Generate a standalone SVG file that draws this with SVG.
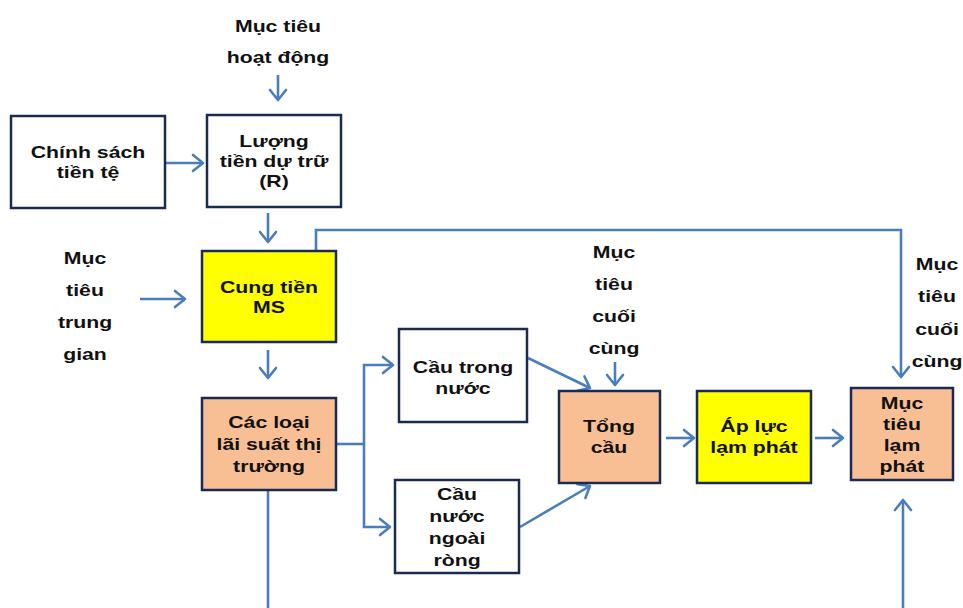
<svg xmlns="http://www.w3.org/2000/svg" width="963" height="608" viewBox="0 0 963 608">
<defs>
<style>
.box{stroke:#1B2A52;stroke-width:2.5}
.w{fill:#ffffff}
.y{fill:#FFFF00}
.p{fill:#F9BF94}
.c{fill:none;stroke:#4A7EBB;stroke-width:2.6}
text{font-family:"Liberation Sans",Arial,sans-serif;font-weight:bold;font-size:17px;fill:#111;text-anchor:middle}
</style>
<marker id="a" markerUnits="userSpaceOnUse" markerWidth="20" markerHeight="20" viewBox="-12 -10 14 20" refX="0" refY="0" orient="auto">
<path d="M-10,-8 L0,0 L-10,8" fill="none" stroke="#4A7EBB" stroke-width="2.6" stroke-linecap="round" stroke-linejoin="round"/>
</marker>
</defs>
<rect width="963" height="608" fill="#ffffff"/>
<g id="connectors">
<path class="c" d="M278,75 L278,100" marker-end="url(#a)"/>
<path class="c" d="M166,163 L203,163" marker-end="url(#a)"/>
<path class="c" d="M268,213 L268,242" marker-end="url(#a)"/>
<path class="c" d="M316,251 L316,230 L901,230 L901,377" marker-end="url(#a)"/>
<path class="c" d="M140,299 L185,299" marker-end="url(#a)"/>
<path class="c" d="M268,350 L268,378" marker-end="url(#a)"/>
<path class="c" d="M336,444 L364,444"/>
<path class="c" d="M364,444 L364,365 L393,365" marker-end="url(#a)"/>
<path class="c" d="M364,444 L364,527 L390,527" marker-end="url(#a)"/>
<path class="c" d="M528,358 L590,388" marker-end="url(#a)"/>
<path class="c" d="M520,527 L590,486" marker-end="url(#a)"/>
<path class="c" d="M615,362 L615,385" marker-end="url(#a)"/>
<path class="c" d="M666,438 L694,438" marker-end="url(#a)"/>
<path class="c" d="M815,438 L843,438" marker-end="url(#a)"/>
<path class="c" d="M268,491 L268,608"/>
<path class="c" d="M903,608 L903,500" marker-end="url(#a)"/>
</g>
<g id="label-muc-tieu-hoat-dong">
<text transform="translate(278,32) scale(1.25,1)"><tspan x="0" y="0">Mục tiêu</tspan><tspan x="0" y="31">hoạt động</tspan></text>
</g>
<g id="node-chinh-sach">
<rect class="box w" x="11" y="116" width="154" height="92"/>
<text transform="translate(88,158) scale(1.25,1)"><tspan x="0" y="0">Chính sách</tspan><tspan x="0" y="20">tiền tệ</tspan></text>
</g>
<g id="node-luong-tien">
<rect class="box w" x="207" y="115" width="134" height="92"/>
<text transform="translate(274,147) scale(1.25,1)"><tspan x="0" y="0">Lượng</tspan><tspan x="0" y="20">tiền dự trữ</tspan><tspan x="0" y="40">(R)</tspan></text>
</g>
<g id="label-muc-tieu-trung-gian">
<text transform="translate(85,264) scale(1.25,1)"><tspan x="0" y="0">Mục</tspan><tspan x="0" y="32">tiêu</tspan><tspan x="0" y="64">trung</tspan><tspan x="0" y="96">gian</tspan></text>
</g>
<g id="node-cung-tien">
<rect class="box y" x="202" y="251" width="134" height="91"/>
<text transform="translate(269,293) scale(1.25,1)"><tspan x="0" y="0">Cung tiền</tspan><tspan x="0" y="20">MS</tspan></text>
</g>
<g id="node-lai-suat">
<rect class="box p" x="202" y="398" width="134" height="92"/>
<text transform="translate(269,428) scale(1.25,1)"><tspan x="0" y="0">Các loại</tspan><tspan x="0" y="22">lãi suất thị</tspan><tspan x="0" y="44">trường</tspan></text>
</g>
<g id="node-cau-trong-nuoc">
<rect class="box w" x="399" y="329" width="128" height="93"/>
<text transform="translate(463,373) scale(1.25,1)"><tspan x="0" y="0">Cầu trong</tspan><tspan x="0" y="21">nước</tspan></text>
</g>
<g id="node-cau-nuoc-ngoai">
<rect class="box w" x="395" y="480" width="124" height="93"/>
<text transform="translate(457,500) scale(1.25,1)"><tspan x="0" y="0">Cầu</tspan><tspan x="0" y="22">nước</tspan><tspan x="0" y="44">ngoài</tspan><tspan x="0" y="66">ròng</tspan></text>
</g>
<g id="label-muc-tieu-cuoi-cung-1">
<text transform="translate(614,258) scale(1.25,1)"><tspan x="0" y="0">Mục</tspan><tspan x="0" y="32">tiêu</tspan><tspan x="0" y="64">cuối</tspan><tspan x="0" y="96">cùng</tspan></text>
</g>
<g id="node-tong-cau">
<rect class="box p" x="559" y="391" width="101" height="92"/>
<text transform="translate(609,432) scale(1.25,1)"><tspan x="0" y="0">Tổng</tspan><tspan x="0" y="21">cầu</tspan></text>
</g>
<g id="node-ap-luc">
<rect class="box y" x="697" y="391" width="114" height="92"/>
<text transform="translate(754,432) scale(1.25,1)"><tspan x="0" y="0">Áp lực</tspan><tspan x="0" y="21">lạm phát</tspan></text>
</g>
<g id="label-muc-tieu-cuoi-cung-2">
<text transform="translate(937,270) scale(1.25,1)"><tspan x="0" y="0">Mục</tspan><tspan x="0" y="32">tiêu</tspan><tspan x="0" y="65">cuối</tspan><tspan x="0" y="97">cùng</tspan></text>
</g>
<g id="node-muc-tieu-lam-phat">
<rect class="box p" x="851" y="388" width="102" height="92"/>
<text transform="translate(902,409) scale(1.25,1)"><tspan x="0" y="0">Mục</tspan><tspan x="0" y="21">tiêu</tspan><tspan x="0" y="42">lạm</tspan><tspan x="0" y="63">phát</tspan></text>
</g>
</svg>
